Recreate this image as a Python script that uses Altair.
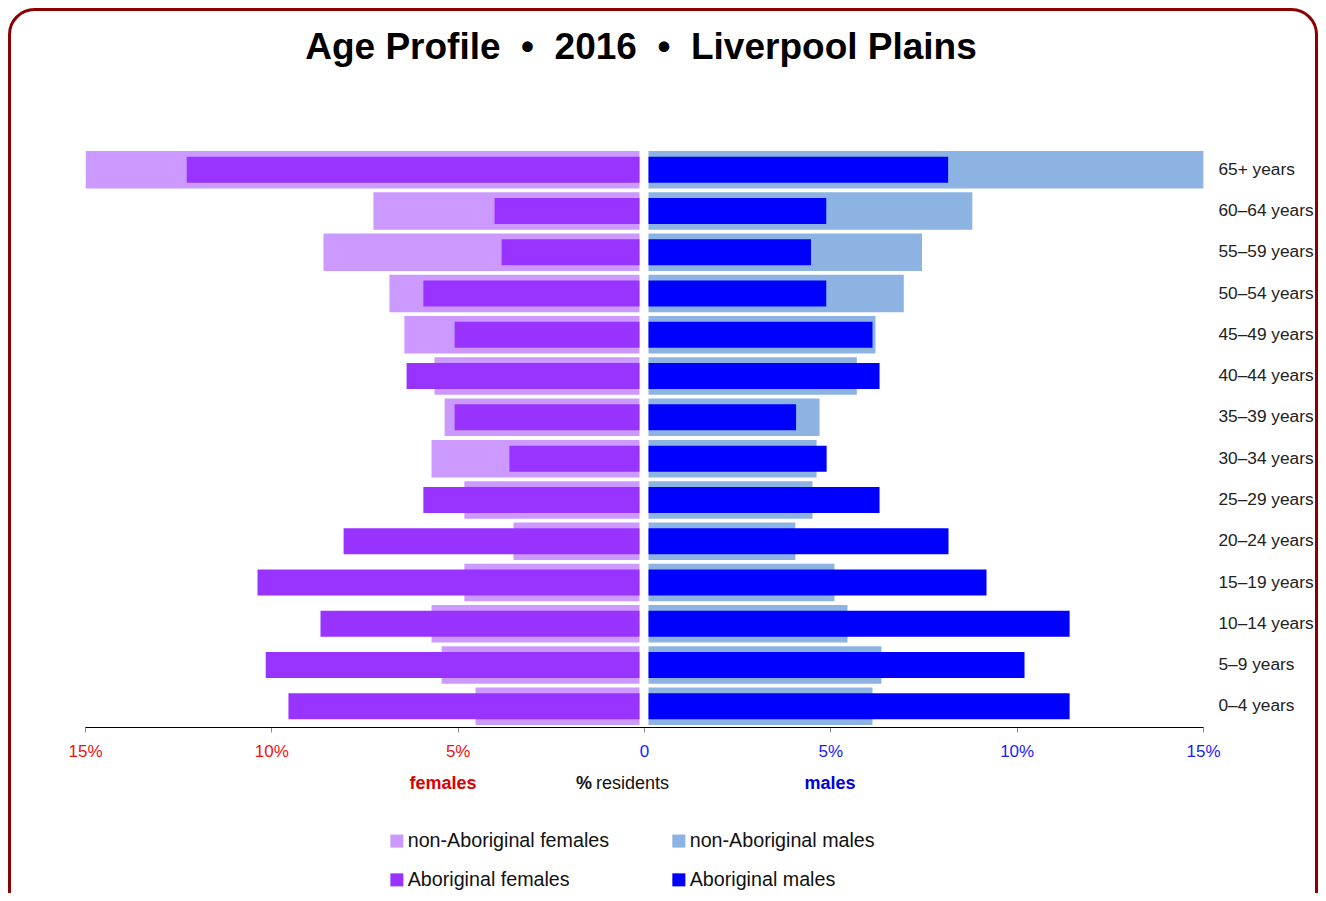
import altair as alt
import pandas as pd

ages = ["65+ years", "60–64 years", "55–59 years", "50–54 years", "45–49 years",
        "40–44 years", "35–39 years", "30–34 years", "25–29 years", "20–24 years",
        "15–19 years", "10–14 years", "5–9 years", "0–4 years"]

nonab_females = [14.86, 7.14, 8.48, 6.71, 6.31, 5.50, 5.23, 5.58, 4.70, 3.38, 4.70, 5.58, 5.31, 4.40]
ab_females = [12.15, 3.89, 3.70, 5.80, 4.96, 6.25, 4.96, 3.49, 5.80, 7.94, 10.25, 8.56, 10.03, 9.42]
nonab_males = [14.89, 8.69, 7.34, 6.85, 6.09, 5.59, 4.59, 4.51, 4.40, 3.94, 4.99, 5.34, 6.25, 6.01]
ab_males = [8.04, 4.77, 4.36, 4.77, 6.01, 6.20, 3.96, 4.78, 6.20, 8.05, 9.07, 11.30, 10.09, 11.30]

groups = ["non-Aboriginal females", "non-Aboriginal males", "Aboriginal females", "Aboriginal males"]
colors = ["#cc99ff", "#8db3e2", "#9933ff", "#0000ff"]
tick_values = [-15, -10, -5, 0, 5, 10, 15]

title_text = "Age Profile \u00a0•\u00a0 2016 \u00a0•\u00a0 Liverpool Plains"

rows = []
for series, name, sex in [(nonab_females, groups[0], "F"), (nonab_males, groups[1], "M"),
                          (ab_females, groups[2], "F"), (ab_males, groups[3], "M")]:
    for a, v in zip(ages, series):
        rows.append({"age": a, "group": name, "sex": sex, "value": v})
df = pd.DataFrame(rows)

FONT = "Liberation Sans, Arial, sans-serif"

W, H = 1118, 578

x_enc = alt.X(
    "xv:Q",
    scale=alt.Scale(domain=[-15, 15], nice=False),
    title=None,
    axis=alt.Axis(
        values=tick_values,
        grid=False,
        labelFlush=False,
        labelExpr="datum.value == 0 ? '0' : abs(datum.value) + '%'",
        labelColor={"condition": {"test": "datum.value < 0", "value": "#ee1111"}, "value": "#1a1aff"},
        labelFont=FONT,
        labelFontSize=17,
        labelPadding=11,
        tickSize=5,
        tickColor="#888888",
        domainColor="#000000",
        domainWidth=1,
    ),
)
y_enc = alt.Y(
    "age:N",
    sort=ages,
    scale=alt.Scale(paddingInner=0, paddingOuter=0),
    title=None,
    axis=alt.Axis(
        orient="right",
        domain=False,
        ticks=False,
        labelPadding=15,
        labelAlign="left",
        labelFont=FONT,
        labelFontSize=17.3,
        labelColor="#222222",
        labelLimit=300,
    ),
)
color_enc = alt.Color(
    "group:N",
    scale=alt.Scale(domain=groups, range=colors),
    legend=alt.Legend(
        title=None,
        orient="none",
        legendX=302,
        legendY=682,
        columns=2,
        direction="horizontal",
        symbolType="square",
        symbolSize=170,
        symbolStrokeWidth=0,
        labelFont=FONT,
        labelFontSize=19.7,
        labelColor="#111111",
        labelLimit=400,
        labelOffset=1,
        columnPadding=59,
        rowPadding=18,
        padding=0,
    ),
)

base = alt.Chart(df).transform_calculate(
    xv="datum.sex == 'F' ? -datum.value : datum.value"
)


def layer(name, size, off):
    return base.transform_filter(alt.datum.group == name).mark_bar(
        size=size, xOffset=off, x2Offset=off
    ).encode(x=x_enc, x2=alt.datum(0), y=y_enc, color=color_enc)


bars = [
    layer(groups[0], 37.5, -4.5),
    layer(groups[1], 37.5, 4.5),
    layer(groups[2], 26, -4.5),
    layer(groups[3], 26, 4.5),
]

one = pd.DataFrame({"k": [0]})

border = alt.Chart(one).mark_rect(
    filled=False, stroke="#8b0000", strokeWidth=3, cornerRadius=25
).encode(x=alt.value(-75.5), x2=alt.value(1231.5), y=alt.value(-139.5), y2=alt.value(800))

title = alt.Chart(one).mark_text(
    font=FONT, fontSize=37, fontWeight="bold", align="center", baseline="middle", color="#000000"
).encode(x=alt.value(556), y=alt.value(-101), text=alt.value(title_text))

fem = alt.Chart(one).mark_text(
    font=FONT, fontSize=18, fontWeight="bold", align="center", baseline="middle", color="#dd0000"
).encode(x=alt.value(358), y=alt.value(635), text=alt.value("females"))

mal = alt.Chart(one).mark_text(
    font=FONT, fontSize=18, fontWeight="bold", align="center", baseline="middle", color="#0000dd"
).encode(x=alt.value(745), y=alt.value(635), text=alt.value("males"))

pct = alt.Chart(one).mark_text(
    font=FONT, fontSize=18, fontWeight="bold", align="right", baseline="middle", color="#111111"
).encode(x=alt.value(507), y=alt.value(635), text=alt.value("%"))

res = alt.Chart(one).mark_text(
    font=FONT, fontSize=18, align="left", baseline="middle", color="#111111"
).encode(x=alt.value(511), y=alt.value(635), text=alt.value("residents"))

chart = alt.layer(border, *bars, title, fem, mal, pct, res).properties(
    width=W,
    height=H,
    autosize=alt.AutoSizeParams(type="none"),
    padding={"left": 77, "top": 141, "right": 115, "bottom": 166},
    background="#ffffff",
).configure_view(strokeWidth=0)

chart.save("out.html", embed_options={"renderer": "svg", "actions": False})
